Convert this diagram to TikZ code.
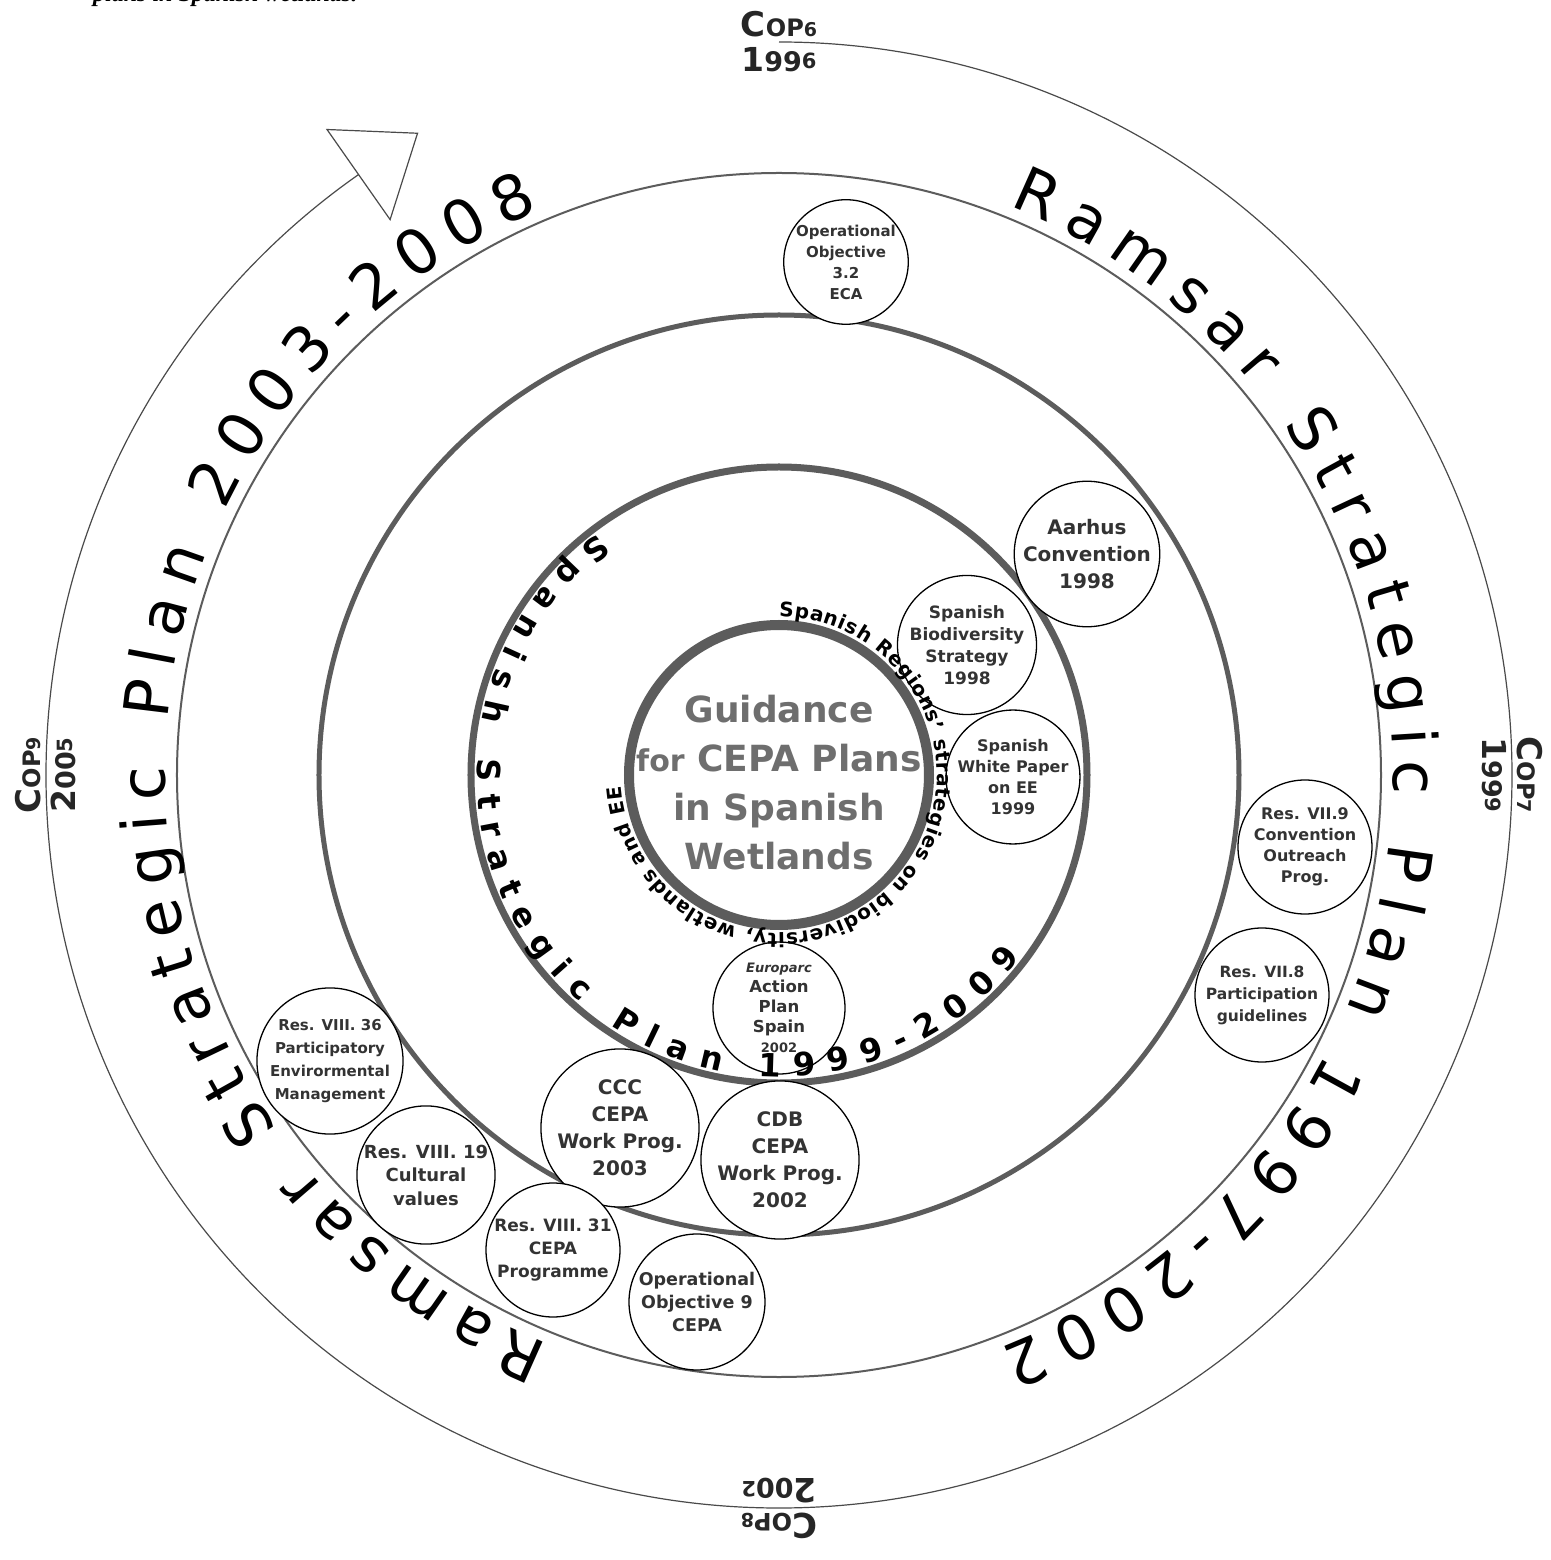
\documentclass[tikz,border=0pt]{standalone}
\usepackage{fontspec}
\setmainfont{DejaVu Sans}
\newfontfamily\capfont{Liberation Serif}
\usetikzlibrary{decorations.text, calc}

\definecolor{ringgray}{HTML}{5C5C5C}
\definecolor{linegray}{HTML}{4A4A4A}
\definecolor{inkgray}{HTML}{333333}
\definecolor{guidegray}{HTML}{6E6E6E}

\newcommand{\fsize}[2]{\fontsize{#1}{#2}\selectfont}
\newcommand{\ringfont}{\fontsize{62}{62}\selectfont}
\newcommand{\planfont}{\bfseries\fontsize{32}{32}\selectfont}
\newcommand{\regionfont}{\bfseries\fontsize{20}{20}\selectfont}
\newcommand{\copmark}[1]{{\fsize{34}{34}C}{\fsize{24}{24}OP}{\fsize{19}{19}#1}}
\newcommand{\copyr}[3]{{\fsize{33}{33}#1}{\fsize{27}{27}#2}\raisebox{3pt}{\fsize{21}{21}#3}}

\tikzstyle{outer}    = [draw=linegray, line width=1.2pt]
\tikzstyle{ring}     = [draw=ringgray]
\tikzstyle{topic}    = [circle, draw=black, line width=1.3pt, fill=white, inner sep=0pt,
                        minimum size=134pt, align=center, text=inkgray,
                        font=\bfseries\fsize{16}{21}]
\tikzstyle{bigtopic} = [topic, font=\bfseries\fsize{20}{27}]
\tikzstyle{cop}      = [inner sep=2pt, font=\bfseries, text=black!85]

\begin{document}
\begin{tikzpicture}[x=1pt, y=1pt]

  \path[use as bounding box, fill=white] (-779,-785) rectangle (771,775);

  % --- COP timeline ---
  \draw[outer] (90:733pt) arc[start angle=90, end angle=-235, radius=733pt];
  \coordinate (tl_end) at (125:733pt);
  \draw[outer, fill=white] ($(tl_end)+(125:55pt)$) -- ($(tl_end)+(35:72pt)$)
                           -- ($(tl_end)+(-55:55pt)$) -- cycle;

  % --- rings ---
  \draw[ring, line width=2pt]   (0,0) circle[radius=602pt];
  \draw[ring, line width=5pt]   (0,0) circle[radius=460pt];
  \draw[ring, line width=7pt]   (0,0) circle[radius=308pt];
  \draw[ring, line width=10pt, fill=white] (0,0) circle[radius=150pt];

  % --- Ramsar Strategic Plan 1997-2002 ---
  \node (oo32)   [topic, minimum size=112pt, font=\bfseries\fsize{15}{21}] at (67,513)
                 {Operational\\Objective\\3.2\\ECA};
  \node (aarhus) [bigtopic, minimum size=132pt] at (308,221) {Aarhus\\Convention\\1998};
  \node (res79)  [topic] at (526,-72) {Res. VII.9\\Convention\\Outreach\\Prog.};
  \node (res78)  [topic, font=\bfseries\fsize{15.5}{22}] at (483,-220)
                 {Res. VII.8\\Participation\\guidelines};
  \node (cdb)    [bigtopic] at (1,-385) {CDB\\CEPA\\Work Prog.\\2002};

  % --- Ramsar Strategic Plan 2003-2008 ---
  \node (ccc)    [bigtopic] at (-159,-353) {CCC\\CEPA\\Work Prog.\\2003};
  \node (oo9)    [topic, minimum size=136pt, font=\bfseries\fsize{17.5}{23}] at (-82,-527)
                 {Operational\\Objective 9\\CEPA};
  \node (res831) [topic, font=\bfseries\fsize{17}{23}] at (-226,-475)
                 {Res. VIII. 31\\CEPA\\Programme};
  \node (res819) [topic, font=\bfseries\fsize{18}{23.5}] at (-353,-400)
                 {Res. VIII. 19\\Cultural\\values};
  \node (res836) [topic, font=\bfseries\fsize{15}{23}] at (-449,-286)
                 {Res. VIII. 36\\Participatory\\Envirormental\\Management};

  % --- Spanish Strategic Plan 1999-2009 ---
  \node (biodiv)   [topic, font=\bfseries\fsize{17}{22}] at (188,130)
                   {Spanish\\Biodiversity\\Strategy\\1998};
  \node (whitep)   [topic, minimum size=132pt] at (234,-2) {Spanish\\White Paper\\on EE\\1999};
  \node (europarc) [topic, minimum size=132pt, font=\bfseries\fsize{16.5}{20}] at (0,-233)
                   {{\itshape\fsize{13}{20}Europarc}\\Action\\Plan\\Spain\\{\fsize{13}{20}2002}};

  % --- texts along the rings ---
  \path[decorate, decoration={text along path, text align={fit to path},
        text={|\ringfont|Ramsar Strategic Plan 1997-2002}}]
        (68:614pt) arc[start angle=68, end angle=-69, radius=614pt];
  \path[decorate, decoration={text along path, text align={fit to path},
        text={|\ringfont|Ramsar Strategic Plan 2003-2008}}]
        (248:614pt) arc[start angle=248, end angle=113, radius=614pt];
  \path[decorate, decoration={text along path, text align={fit to path},
        text={|\planfont|Spanish Strategic Plan 1999-2009}}]
        (127:302pt) arc[start angle=127, end angle=323, radius=302pt];
  \path[decorate, decoration={text along path, text align={fit to path},
        text={|\regionfont|Spanish Regions' strategies on biodiversity, wetlands and EE}}]
        (90:158pt) arc[start angle=90, end angle=-176, radius=158pt];

  % --- centre ---
  \node (guide) [align=center, text=guidegray, font=\bfseries\fsize{36}{49}] at (0,-8)
                {Guidance\\{\fsize{30}{49}for} CEPA Plans\\in Spanish\\Wetlands};

  % --- COP marks ---
  \foreach \ang/\n/\ya/\yb/\yc in {90/6/1/99/6, 0/7/1/99/9, -90/8/2/00/2, 180/9/2/00/5}{
    \node (cop\n)  [cop, anchor=south, rotate=\ang-90] at (\ang:736pt) {\copmark{\n}};
    \node (year\n) [cop, anchor=north, rotate=\ang-90] at (\ang:730pt) {\copyr{\ya}{\yb}{\yc}};
  }

  \node (caption) [anchor=base west, inner sep=0pt, font=\capfont\bfseries\itshape\fsize{24}{24}]
        at (-686,773) {plans in Spanish wetlands.};

\end{tikzpicture}
\end{document}
